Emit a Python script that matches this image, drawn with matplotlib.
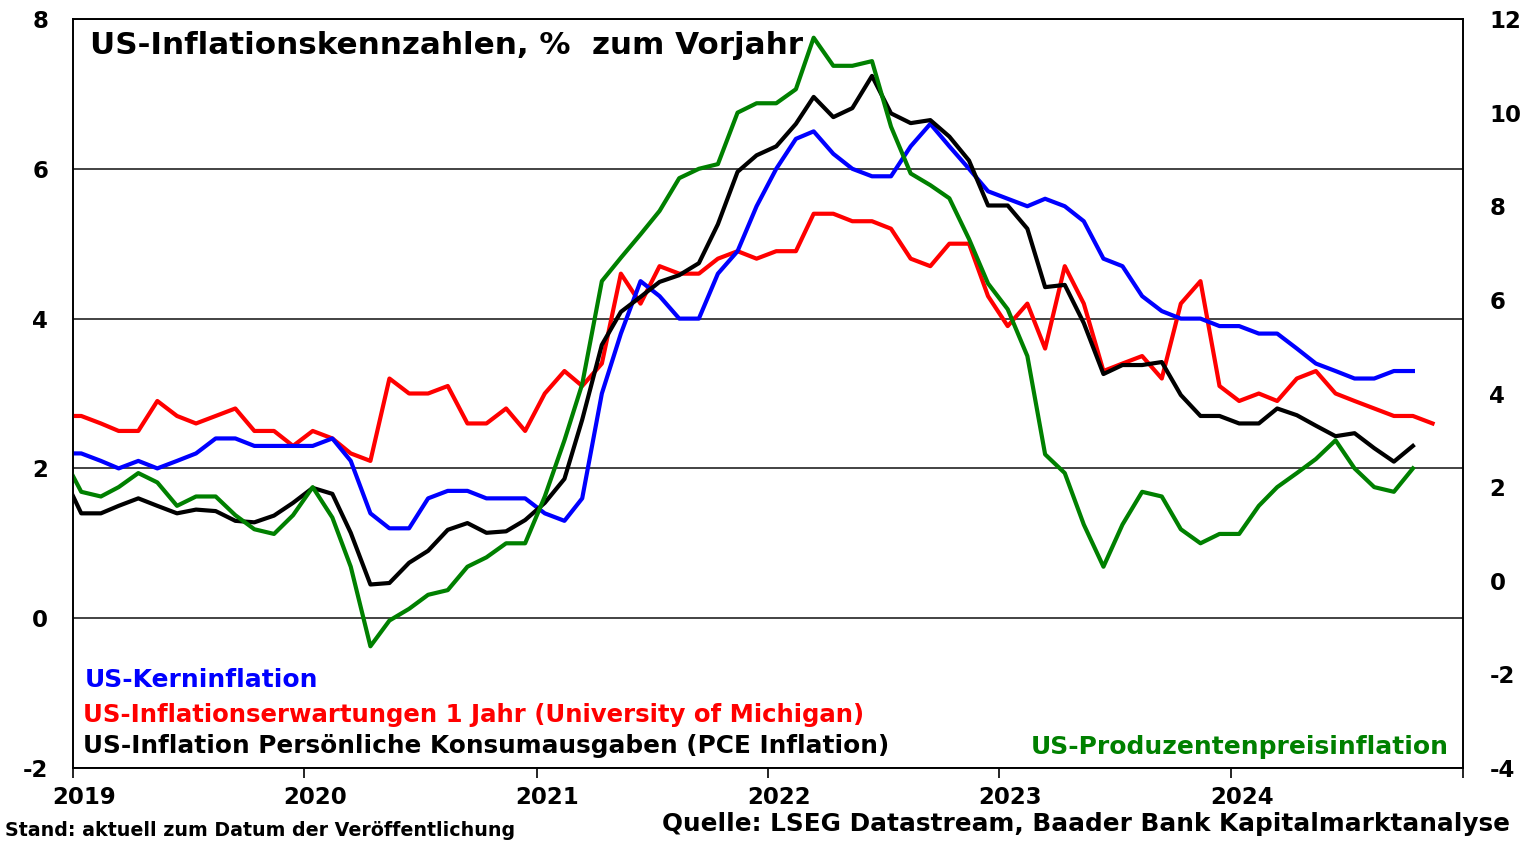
import matplotlib
matplotlib.use('Agg')
import matplotlib.pyplot as plt
import matplotlib.transforms as mtransforms
import pandas as pd

plt.rcParams['font.family'] = 'DejaVu Sans'
plt.rcParams['font.weight'] = 'bold'
plt.rcParams['axes.unicode_minus'] = False

# monthly values, Dec 2018 .. Nov 2024 (y/y in %)
dates = pd.date_range('2018-12-01', '2024-11-01', freq='MS') + pd.Timedelta(days=13)

kerninflation = [2.2,
    2.2, 2.1, 2.0, 2.1, 2.0, 2.1, 2.2, 2.4, 2.4, 2.3, 2.3, 2.3,
    2.3, 2.4, 2.1, 1.4, 1.2, 1.2, 1.6, 1.7, 1.7, 1.6, 1.6, 1.6,
    1.4, 1.3, 1.6, 3.0, 3.8, 4.5, 4.3, 4.0, 4.0, 4.6, 4.9, 5.5,
    6.0, 6.4, 6.5, 6.2, 6.0, 5.9, 5.9, 6.3, 6.6, 6.3, 6.0, 5.7,
    5.6, 5.5, 5.6, 5.5, 5.3, 4.8, 4.7, 4.3, 4.1, 4.0, 4.0, 3.9,
    3.9, 3.8, 3.8, 3.6, 3.4, 3.3, 3.2, 3.2, 3.3, 3.3]

michigan = [2.7,
    2.7, 2.6, 2.5, 2.5, 2.9, 2.7, 2.6, 2.7, 2.8, 2.5, 2.5, 2.3,
    2.5, 2.4, 2.2, 2.1, 3.2, 3.0, 3.0, 3.1, 2.6, 2.6, 2.8, 2.5,
    3.0, 3.3, 3.1, 3.4, 4.6, 4.2, 4.7, 4.6, 4.6, 4.8, 4.9, 4.8,
    4.9, 4.9, 5.4, 5.4, 5.3, 5.3, 5.2, 4.8, 4.7, 5.0, 5.0, 4.3,
    3.9, 4.2, 3.6, 4.7, 4.2, 3.3, 3.4, 3.5, 3.2, 4.2, 4.5, 3.1,
    2.9, 3.0, 2.9, 3.2, 3.3, 3.0, 2.9, 2.8, 2.7, 2.7, 2.6]

pce = [1.95,
    1.4, 1.4, 1.5, 1.6, 1.5, 1.4, 1.45, 1.43, 1.3, 1.28, 1.37, 1.54,
    1.74, 1.66, 1.14, 0.45, 0.47, 0.74, 0.9, 1.18, 1.27, 1.14, 1.16, 1.31,
    1.54, 1.86, 2.65, 3.65, 4.09, 4.29, 4.49, 4.58, 4.74, 5.26, 5.96, 6.18,
    6.3, 6.6, 6.96, 6.69, 6.81, 7.24, 6.74, 6.61, 6.65, 6.43, 6.11, 5.51,
    5.51, 5.2, 4.42, 4.45, 3.94, 3.26, 3.38, 3.38, 3.42, 2.98, 2.7, 2.7,
    2.6, 2.6, 2.8, 2.71, 2.57, 2.43, 2.47, 2.27, 2.09, 2.3]

ppi = [2.7,
    1.9, 1.8, 2.0, 2.3, 2.1, 1.6, 1.8, 1.8, 1.4, 1.1, 1.0, 1.4,
    2.0, 1.35, 0.3, -1.4, -0.85, -0.6, -0.3, -0.2, 0.3, 0.5, 0.8, 0.8,
    1.8, 3.0, 4.2, 6.4, 6.9, 7.4, 7.9, 8.6, 8.8, 8.9, 10.0, 10.2,
    10.2, 10.5, 11.6, 11.0, 11.0, 11.1, 9.7, 8.7, 8.45, 8.17, 7.3, 6.35,
    5.8, 4.8, 2.7, 2.3, 1.2, 0.3, 1.2, 1.9, 1.8, 1.1, 0.8, 1.0,
    1.0, 1.6, 2.0, 2.3, 2.6, 3.0, 2.4, 2.0, 1.9, 2.4]

years = list(range(2019, 2026))
year_labels = [str(y) for y in years[:-1]] + ['']

W, H = 1528, 842
fig = plt.figure(figsize=(W / 100, H / 100), dpi=100)
ax = fig.add_axes([73 / W, 1 - 768 / H, (1463 - 73) / W, (768 - 19) / H])
ax2 = ax.twinx()

ax.plot(dates[:len(michigan)], michigan, color='#ff0000', lw=3, zorder=3)
ax.plot(dates[:len(kerninflation)], kerninflation, color='#0000ff', lw=3, zorder=4)
ax.plot(dates[:len(pce)], pce, color='black', lw=3, zorder=5)
ax2.plot(dates[:len(ppi)], ppi, color='#008000', lw=3)

ax.set_xlim(pd.Timestamp('2019-01-01'), pd.Timestamp('2025-01-01'))
ax.set_ylim(-2, 8)
ax2.set_ylim(-4, 12)
ax.set_yticks(range(-2, 9, 2))
ax2.set_yticks(range(-4, 13, 2))
ax.set_xticks([pd.Timestamp(f'{y}-01-01') for y in years])
ax.set_xticklabels(year_labels)

ax.grid(axis='y', color='#222222', lw=1.2)
ax.set_axisbelow(True)

ax.tick_params(axis='x', direction='out', length=7, width=1.2, pad=6, labelsize=16.5)
ax.tick_params(axis='y', length=0, pad=18, labelsize=16.5)
ax2.tick_params(axis='y', length=0, pad=19, labelsize=16.5)
offset = mtransforms.ScaledTranslation(0.11, 0, fig.dpi_scale_trans)
for lbl in ax.get_xticklabels():
    lbl.set_transform(lbl.get_transform() + offset)

for a in (ax, ax2):
    for s in a.spines.values():
        s.set_linewidth(1.2)
        s.set_color('black')

def px(x, y):
    return x / W, 1 - y / H

fig.text(*px(90, 45), 'US-Inflationskennzahlen, %  zum Vorjahr', fontsize=22.3,
         ha='left', va='center')
fig.text(*px(85, 680), 'US-Kerninflation', color='#0000ff', fontsize=18,
         ha='left', va='center')
fig.text(*px(83, 715), 'US-Inflationserwartungen 1 Jahr (University of Michigan)',
         color='#ff0000', fontsize=17.6, ha='left', va='center')
fig.text(*px(83, 746), 'US-Inflation Persönliche Konsumausgaben (PCE Inflation)',
         color='black', fontsize=17.8, ha='left', va='center')
fig.text(*px(1449, 747), 'US-Produzentenpreisinflation', color='#008000', fontsize=18,
         ha='right', va='center')
fig.text(*px(5, 830), 'Stand: aktuell zum Datum der Veröffentlichung', fontsize=13.7,
         ha='left', va='center')
fig.text(*px(1510, 824), 'Quelle: LSEG Datastream, Baader Bank Kapitalmarktanalyse',
         fontsize=17.8, ha='right', va='center')

fig.savefig('out.png', dpi=100)
